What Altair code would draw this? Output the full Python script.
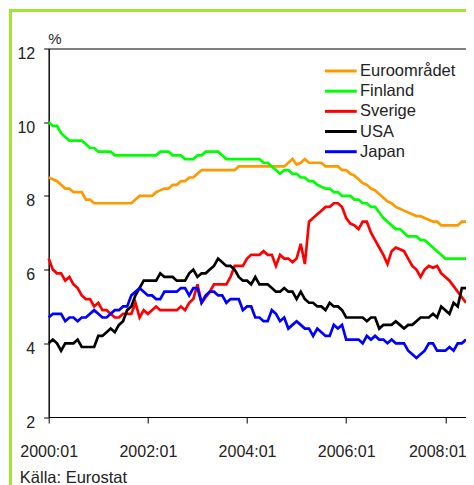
import altair as alt
import pandas as pd

FONT = "Liberation Sans, Arial, sans-serif"

series_names = ["Euroområdet", "Finland", "Sverige", "USA", "Japan"]
series_colors = ["#FF9900", "#00FF00", "#FF0000", "#000000", "#0000FF"]

# monthly, 2000:01 .. 2008:06
months = [f"{2000 + i // 12}:{i % 12 + 1:02d}" for i in range(102)]

euro = [
    8.5, 8.45, 8.4, 8.3, 8.2, 8.2, 8.1, 8.1, 8.1, 7.9, 7.9, 7.8,
    7.8, 7.8, 7.8, 7.8, 7.8, 7.8, 7.8, 7.8, 7.8, 7.9, 8.0, 8.0,
    8.0, 8.0, 8.1, 8.15, 8.2, 8.2, 8.3, 8.3, 8.4, 8.4, 8.5, 8.5,
    8.6, 8.7, 8.7, 8.7, 8.7, 8.7, 8.7, 8.7, 8.7, 8.7, 8.8, 8.8,
    8.8, 8.8, 8.8, 8.8, 8.8, 8.8, 8.8, 8.8, 8.8, 8.8, 8.9, 9.0,
    8.85, 8.9, 9.0, 8.9, 8.9, 8.9, 8.9, 8.8, 8.8, 8.8, 8.8, 8.7,
    8.7, 8.6, 8.55, 8.45, 8.35, 8.3, 8.2, 8.15, 8.05, 7.95, 7.85, 7.8,
    7.7, 7.65, 7.6, 7.55, 7.5, 7.45, 7.45, 7.4, 7.35, 7.3, 7.3, 7.2,
    7.2, 7.2, 7.2, 7.2, 7.3, 7.3,
]
finland = [
    10.0, 9.9, 9.9, 9.7, 9.6, 9.5, 9.5, 9.5, 9.5, 9.4, 9.3, 9.3,
    9.2, 9.2, 9.2, 9.2, 9.1, 9.1, 9.1, 9.1, 9.1, 9.1, 9.1, 9.1,
    9.1, 9.1, 9.1, 9.2, 9.2, 9.2, 9.1, 9.1, 9.1, 9.0, 9.0, 9.0,
    9.1, 9.1, 9.2, 9.2, 9.2, 9.2, 9.1, 9.0, 9.0, 9.0, 9.0, 9.0,
    9.0, 9.0, 9.0, 9.0, 8.9, 8.9, 8.8, 8.7, 8.6, 8.7, 8.7, 8.6,
    8.6, 8.5, 8.5, 8.4, 8.4, 8.3, 8.25, 8.2, 8.2, 8.1, 8.1, 8.0,
    8.0, 8.0, 7.9, 7.9, 7.8, 7.8, 7.7, 7.7, 7.55, 7.4, 7.3, 7.2,
    7.1, 7.1, 7.0, 6.9, 6.9, 6.9, 6.8, 6.8, 6.7, 6.6, 6.5, 6.4,
    6.3, 6.3, 6.3, 6.3, 6.3, 6.3,
]
sverige = [
    6.3, 6.0, 5.9, 5.9, 5.7, 5.8, 5.6, 5.5, 5.3, 5.2, 5.2, 5.0,
    5.1, 4.9, 4.9, 4.8, 4.7, 4.7, 4.8, 4.8, 4.8, 5.1, 4.7, 4.9,
    4.8, 4.9, 5.0, 4.9, 4.9, 4.9, 4.9, 4.9, 5.0, 4.9, 5.1, 5.2,
    5.6, 5.1, 5.25, 5.4, 5.6, 5.6, 5.6, 5.6, 5.8, 6.1, 6.1, 6.1,
    6.3, 6.4, 6.4, 6.4, 6.5, 6.4, 6.4, 6.1, 6.4, 6.3, 6.3, 6.2,
    6.3, 6.7, 6.15, 7.3, 7.4, 7.5, 7.6, 7.7, 7.7, 7.8, 7.8, 7.7,
    7.4, 7.25, 7.2, 7.1, 7.3, 7.3, 7.0, 6.8, 6.6, 6.4, 6.15, 6.5,
    6.6, 6.55, 6.5, 6.3, 6.1, 6.0, 5.8, 6.0, 6.1, 6.05, 6.1, 5.9,
    5.8, 5.7, 5.55, 5.4, 5.25, 5.1,
]
usa = [
    4.0, 4.1, 4.0, 3.8, 4.0, 4.0, 4.0, 4.1, 3.9, 3.9, 3.9, 3.9,
    4.2, 4.2, 4.3, 4.4, 4.3, 4.5, 4.6, 4.9, 5.0, 5.3, 5.5, 5.7,
    5.7, 5.7, 5.7, 5.9, 5.8, 5.8, 5.8, 5.7, 5.7, 5.7, 5.9, 6.0,
    5.8, 5.9, 5.9, 6.0, 6.1, 6.3, 6.2, 6.1, 6.1, 6.0, 5.8, 5.7,
    5.7, 5.6, 5.8, 5.6, 5.6, 5.6, 5.5, 5.4, 5.4, 5.5, 5.4, 5.4,
    5.2, 5.4, 5.2, 5.1, 5.1, 5.0, 5.0, 4.9, 5.1, 5.0, 5.0, 4.9,
    4.7, 4.7, 4.7, 4.7, 4.7, 4.6, 4.7, 4.7, 4.4, 4.5, 4.5, 4.5,
    4.6, 4.5, 4.4, 4.5, 4.5, 4.6, 4.7, 4.7, 4.7, 4.8, 4.7, 5.0,
    4.9, 4.8, 5.1, 5.0, 5.5, 5.5,
]
japan = [
    4.7, 4.8, 4.8, 4.8, 4.6, 4.7, 4.7, 4.6, 4.7, 4.7, 4.8, 4.9,
    4.8, 4.7, 4.7, 4.8, 4.9, 4.9, 5.0, 5.0, 5.3, 5.4, 5.5, 5.4,
    5.3, 5.3, 5.2, 5.2, 5.4, 5.4, 5.4, 5.4, 5.5, 5.5, 5.3, 5.5,
    5.5, 5.1, 5.3, 5.4, 5.4, 5.3, 5.3, 5.1, 5.2, 5.2, 5.2, 4.9,
    5.0, 5.0, 4.7, 4.7, 4.6, 4.6, 4.9, 4.8, 4.6, 4.7, 4.4, 4.5,
    4.6, 4.5, 4.4, 4.4, 4.2, 4.4, 4.3, 4.2, 4.2, 4.5, 4.4, 4.5,
    4.1, 4.1, 4.1, 4.1, 4.0, 4.2, 4.1, 4.2, 4.1, 4.1, 4.0, 4.1,
    4.0, 4.0, 4.0, 3.8, 3.7, 3.6, 3.7, 3.8, 4.0, 4.0, 3.8, 3.8,
    3.8, 3.9, 3.8, 4.0, 4.0, 4.1,
]

y_ticks = [2, 4, 6, 8, 10, 12]
x_tick_months = ["2000:01", "2002:01", "2004:01", "2006:01", "2008:01"]

values = dict(zip(series_names, [euro, finland, sverige, usa, japan]))
rows = []
for name in series_names:
    for i, v in enumerate(values[name]):
        rows.append({"idx": i, "month": months[i], "value": v, "series": name})
df = pd.DataFrame(rows)

W, H = 417.3, 368.5
color_scale = alt.Scale(domain=series_names, range=series_colors)
TXT = "#222222"
tick_idx = [months.index(m) for m in x_tick_months]

lines = alt.Chart(df).mark_line(strokeWidth=2.7).encode(
    x=alt.X(
        "idx:Q",
        scale=alt.Scale(domain=[0, len(months) - 1], nice=False, zero=False),
        axis=alt.Axis(
            values=tick_idx,
            labelExpr="toString(2000 + floor(datum.value / 12)) + ':01'",
            title="Källa: Eurostat",
            titleX=-29.4, titleY=65, titleAlign="left", titleBaseline="alphabetic",
            titleFontSize=16.5, titleFontWeight="normal", titleColor=TXT,
            grid=False, tickSize=6, labelPadding=33, labelBaseline="alphabetic",
            labelFontSize=16, labelColor=TXT, labelFlush=False,
            labelOffset={"condition": {"test": f"datum.value == {tick_idx[-1]}", "value": -8},
                         "value": 0},
            domainColor="#000", tickColor="#000",
        ),
    ),
    y=alt.Y(
        "value:Q",
        scale=alt.Scale(domain=[2, 12], nice=False, zero=False),
        axis=alt.Axis(
            values=y_ticks, title="%", titleAngle=0, titleX=-1, titleY=-5.5,
            titleAlign="left", titleBaseline="alphabetic", titleFontSize=15,
            titleFontWeight="normal", titleColor=TXT,
            grid=False, tickSize=5, labelPadding=9, labelFontSize=16,
            labelBaseline="alphabetic", labelOffset=10, labelColor=TXT,
            domainColor="#000", tickColor="#000",
        ),
    ),
    color=alt.Color("series:N", scale=color_scale, legend=None),
    detail="series:N",
)

leg_df = pd.DataFrame({"series": series_names})
leg_y = alt.Y("series:N", scale=alt.Scale(type="point", domain=series_names,
                                           range=[22.5, 103.2], padding=0), axis=None)
leg_rule = alt.Chart(leg_df).mark_rule(strokeWidth=3).encode(
    x=alt.value(276.3), x2=alt.value(308), y=leg_y,
    color=alt.Color("series:N", scale=color_scale, legend=None),
)
leg_text = alt.Chart(leg_df).mark_text(
    align="left", baseline="middle", fontSize=16.5, color=TXT
).encode(x=alt.value(311.3), y=leg_y, text="series:N")

one = pd.DataFrame({"a": [0]})
BORDER = "#A0E632"
border_left = alt.Chart(one).mark_rule(color=BORDER, strokeWidth=3).encode(
    x=alt.value(-38.2), y=alt.value(-39.5), y2=alt.value(440)
)
border_top = alt.Chart(one).mark_rule(color=BORDER, strokeWidth=3).encode(
    x=alt.value(-39.7), x2=alt.value(430), y=alt.value(-38)
)

chart = (
    alt.layer(border_left, border_top, lines, leg_rule, leg_text)
    .resolve_scale(y="independent")
    .properties(
        width=W, height=H,
        padding={"left": 40.7, "top": 40.5, "right": 0, "bottom": 68},
        autosize=alt.AutoSizeParams(type="none"),
    )
    .configure(font=FONT)
    .configure_view(stroke="#000", strokeWidth=1)
)

chart.save("out.html", embed_options={"renderer": "svg", "actions": False})
